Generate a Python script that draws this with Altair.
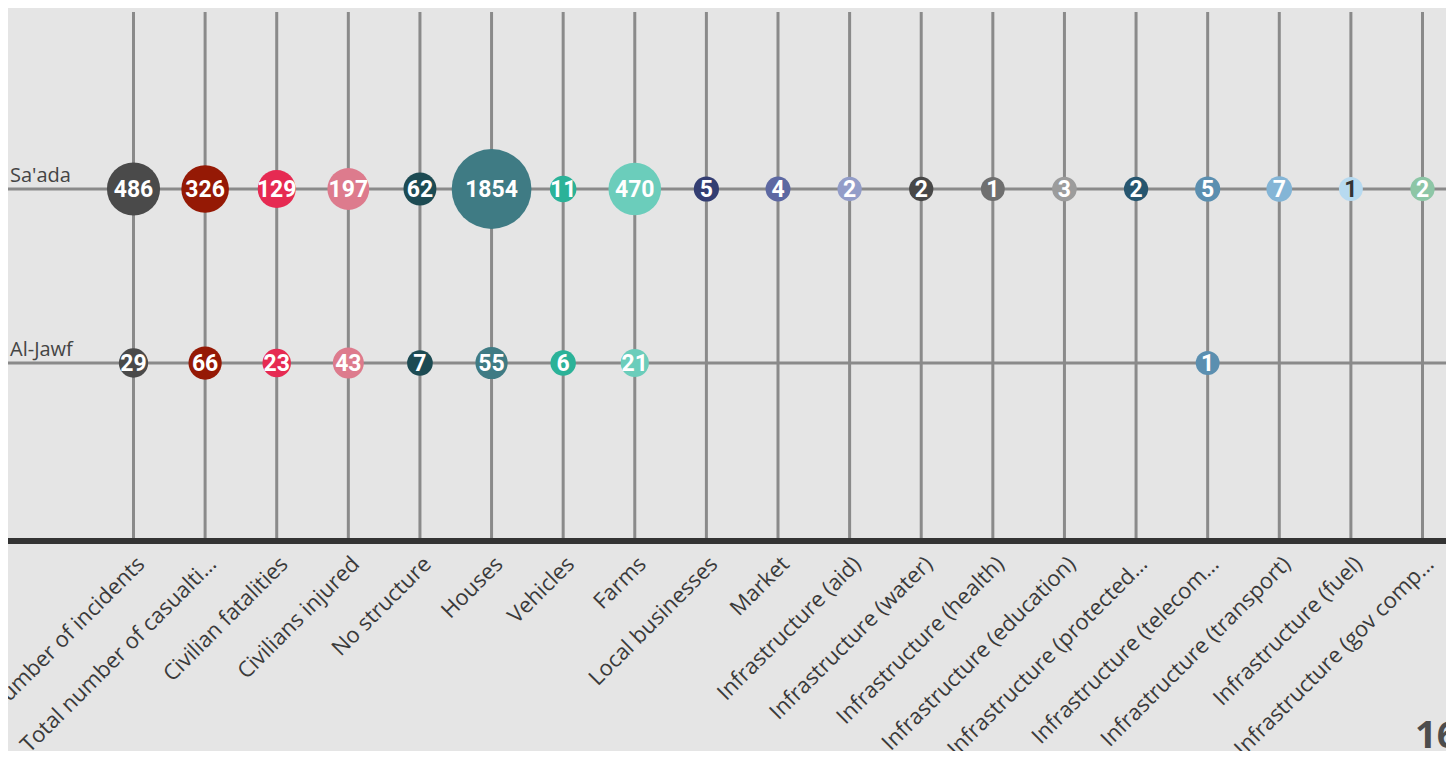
import altair as alt
import pandas as pd

# ---- data ----
categories = [
    "Number of incidents", "Total number of casualti…", "Civilian fatalities",
    "Civilians injured", "No structure", "Houses", "Vehicles", "Farms",
    "Local businesses", "Market", "Infrastructure (aid)", "Infrastructure (water)",
    "Infrastructure (health)", "Infrastructure (education)", "Infrastructure (protected…",
    "Infrastructure (telecom…", "Infrastructure (transport)", "Infrastructure (fuel)",
    "Infrastructure (gov comp…",
]
rows = ["Sa'ada", "Al-Jawf"]
saada = [486, 326, 129, 197, 62, 1854, 11, 470, 5, 4, 2, 2, 1, 3, 2, 5, 7, 1, 2]
aljawf = [29, 66, 23, 43, 7, 55, 6, 21, None, None, None, None, None, None, None, 1, None, None, None]
colors = [
    "#4a4a4a", "#951905", "#e62a52", "#dd7b8d", "#1d4b53", "#3f7b84", "#2bb298",
    "#6bcdbb", "#343e72", "#5d68a2", "#939dc8", "#484848", "#6f6f6f", "#9c9c9c",
    "#27566f", "#5b8fb0", "#84b5d6", "#b7daf0", "#8dc6a6",
]
page_number = ["16"]

# ---- tables ----
recs = []
for row, vals in zip(rows, [saada, aljawf]):
    for c, v in zip(categories, vals):
        if v is not None:
            recs.append({"row": row, "category": c, "value": v})
df = pd.DataFrame(recs)
cat_df = pd.DataFrame({"category": categories})
row_df = pd.DataFrame({"row": rows})
page_df = pd.DataFrame({"t": page_number})

W, H = 1438, 529
GRID = "#8a8a8a"

xscale = alt.Scale(type="point", domain=categories, range=[125.5, 1414.5], padding=0)
yscale = alt.Scale(type="point", domain=rows, range=[177, 351], padding=0)

xaxis = alt.Axis(
    title=None, labelAngle=-45, labelFont="Open Sans", labelFontSize=22,
    labelColor="#3a3a3a", ticks=False, grid=False, domain=False,
    labelPadding=12, labelLimit=500,
)

vrules = alt.Chart(cat_df).mark_rule(color=GRID, strokeWidth=3).encode(
    x=alt.X("category:N", scale=xscale, axis=xaxis, sort=categories),
    y=alt.value(0), y2=alt.value(H),
)

hrules = alt.Chart(row_df).mark_rule(color=GRID, strokeWidth=3).encode(
    y=alt.Y("row:N", scale=yscale, axis=None, sort=rows),
    x=alt.value(0), x2=alt.value(W),
)

baseline = alt.Chart(row_df).mark_rule(color="#333333", strokeWidth=6).encode(
    x=alt.value(0), x2=alt.value(W), y=alt.value(H),
)

row_labels = alt.Chart(row_df).mark_text(
    align="left", baseline="alphabetic", dy=-7, font="Open Sans", fontSize=20,
    color="#444444",
).encode(
    y=alt.Y("row:N", scale=yscale, axis=None, sort=rows),
    x=alt.value(2), text="row:N",
)

bubbles = alt.Chart(df).mark_circle(opacity=1).encode(
    x=alt.X("category:N", scale=xscale, axis=xaxis, sort=categories),
    y=alt.Y("row:N", scale=yscale, axis=None, sort=rows),
    color=alt.Color("category:N", scale=alt.Scale(domain=categories, range=colors), legend=None),
    size=alt.Size("value:Q", scale=alt.Scale(type="pow", exponent=0.7, zero=False, range=[572, 6362]), legend=None),
)

numbers = alt.Chart(df).mark_text(
    font="Roboto", fontWeight="bold", fontSize=23, baseline="middle", align="center", dy=1,
).encode(
    x=alt.X("category:N", scale=xscale, axis=xaxis, sort=categories),
    y=alt.Y("row:N", scale=yscale, axis=None, sort=rows),
    text="value:Q",
    color=alt.condition(alt.datum.category == "Infrastructure (fuel)", alt.value("#333333"), alt.value("#ffffff")),
)

page = alt.Chart(page_df).mark_text(
    align="left", baseline="alphabetic", font="Open Sans", fontWeight="bold",
    fontSize=38, color="#4d4d4d",
).encode(x=alt.value(1407), y=alt.value(736), text="t:N")

chart = alt.layer(vrules, hrules, baseline, row_labels, bubbles, numbers, page).properties(
    width=W, height=H,
    padding={"left": 0, "top": 4, "right": 0, "bottom": 210},
    autosize=alt.AutoSizeParams(type="none"),
    background="#e5e5e5",
).configure_view(stroke=None)

chart.save("out.html", embed_options={"renderer": "svg", "actions": False})
